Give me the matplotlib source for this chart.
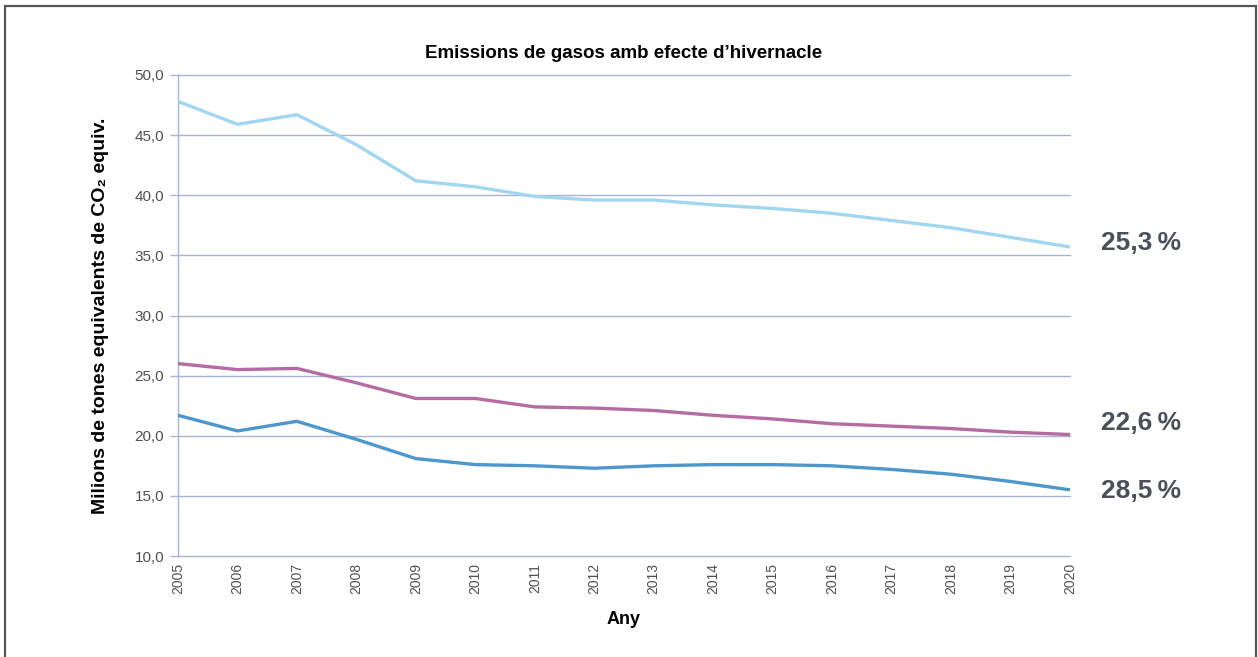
import matplotlib
matplotlib.use("Agg")
import matplotlib.pyplot as plt
from matplotlib.patches import Rectangle
from matplotlib.ticker import FuncFormatter

plt.rcParams['font.family'] = ['Liberation Sans', 'DejaVu Sans']

years = list(range(2005, 2021))
light = [47.8, 45.9, 46.7, 44.2, 41.2, 40.7, 39.9, 39.6, 39.6, 39.2, 38.9, 38.5, 37.9, 37.3, 36.5, 35.7]
pink = [26.0, 25.5, 25.6, 24.4, 23.1, 23.1, 22.4, 22.3, 22.1, 21.7, 21.4, 21.0, 20.8, 20.6, 20.3, 20.1]
dark = [21.7, 20.4, 21.2, 19.7, 18.1, 17.6, 17.5, 17.3, 17.5, 17.6, 17.6, 17.5, 17.2, 16.8, 16.2, 15.5]
end_labels = ["25,3\u2009%", "22,6\u2009%", "28,5\u2009%"]
yticks = [10, 15, 20, 25, 30, 35, 40, 45, 50]

W, H = 1258, 657
fig = plt.figure(figsize=(W / 100, H / 100), dpi=100)
ax = fig.add_axes([178 / W, 1 - 556 / H, (1070 - 178) / W, (556 - 75) / H])

# outer frame
fig.patches.append(Rectangle((5 / W, -0.1), (1256 - 5) / W, 1.1 - 6 / H, transform=fig.transFigure,
                             fill=False, edgecolor='#555555', linewidth=1.6))

gridc = '#aab4d2'
for y in yticks:
    ax.axhline(y, color=gridc, lw=1.0, zorder=1, clip_on=False)

series = [(light, '#a0d6f0'), (pink, '#b56ca2'), (dark, '#4d97cc')]
for vals, col in series:
    ax.plot(years, vals, color=col, lw=2.4, solid_capstyle='butt', zorder=3)

ax.set_xlim(2005, 2020)
ax.set_ylim(10, 50)
ax.set_yticks(yticks)
ax.yaxis.set_major_formatter(FuncFormatter(lambda v, p: f"{v:.1f}".replace('.', ',')))
ax.set_xticks(years)
ax.set_xticklabels([str(y) for y in years], rotation=90)

for s in ['top', 'right', 'bottom']:
    ax.spines[s].set_visible(False)
ax.spines['left'].set_color(gridc)
ax.spines['left'].set_linewidth(1.0)
ax.tick_params(axis='y', colors=gridc, labelcolor='#505050', length=6, width=1.0, labelsize=11, pad=4)
ax.tick_params(axis='x', length=0, labelcolor='#505050', labelsize=10, pad=5)

ax.set_title("Emissions de gasos amb efecte d\u2019hivernacle", fontsize=13.5, fontweight='bold', pad=12)
ax.set_xlabel("Any", fontsize=13, fontweight='bold', labelpad=12)
ax.set_ylabel("Milions de tones equivalents de CO\u2082 equiv.", fontsize=14, fontweight='bold', labelpad=18)

# labels sit slightly off the line ends, as in the original
offsets = [(22, 3), (22, 8), (22, -1)]
for vals, txt, off in zip([light, pink, dark], end_labels, offsets):
    ax.annotate(txt, xy=(years[-1], vals[-1]), xytext=off, textcoords='offset points',
                va='center', ha='left', fontsize=19, fontweight='bold', color='#4a4f58',
                annotation_clip=False)

fig.savefig("out.png", dpi=100)
